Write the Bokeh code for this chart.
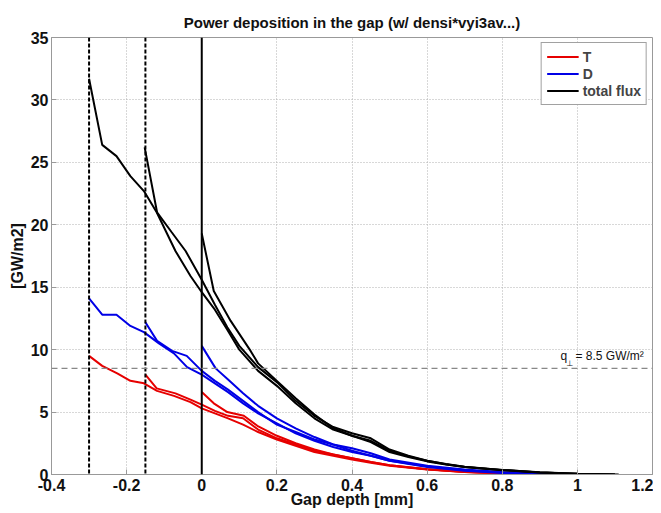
from bokeh.plotting import figure
from bokeh.models import Range1d, FixedTicker, Span, Label, Legend, LegendItem
from bokeh.embed import file_html
from bokeh.resources import INLINE

# ---------------- data ----------------
# total flux (black), three runs starting at -0.3, -0.15 and 0 mm
tot1_x = [-0.3, -0.265, -0.227, -0.19, -0.154, -0.12, -0.07, -0.03, 0.0, 0.035, 0.068, 0.1,
          0.15, 0.2, 0.25, 0.3, 0.35, 0.4, 0.45, 0.5, 0.55, 0.6, 0.65, 0.7, 0.8, 0.9, 1.0, 1.11]
tot1_y = [31.7, 26.4, 25.5, 23.9, 22.7, 21.0, 17.9, 15.9, 14.6, 13.2, 11.6, 10.0,
          8.3, 7.1, 5.7, 4.5, 3.6, 3.1, 2.6, 1.8, 1.4, 1.05, 0.8, 0.6, 0.35, 0.17, 0.07, 0.0]
tot2_x = [-0.152, -0.119, -0.08, -0.043, 0.0, 0.035, 0.068, 0.1, 0.15, 0.2, 0.25, 0.3,
          0.35, 0.4, 0.45, 0.5, 0.55, 0.6, 0.65, 0.7, 0.8, 0.9, 1.0, 1.1]
tot2_y = [26.2, 21.0, 19.4, 17.9, 15.6, 13.6, 11.8, 10.3, 8.6, 7.4, 5.9, 4.7,
          3.8, 3.3, 2.9, 2.0, 1.5, 1.1, 0.85, 0.62, 0.37, 0.18, 0.07, 0.01]
tot3_x = [0.0, 0.032, 0.077, 0.13, 0.15, 0.2, 0.25, 0.3, 0.35, 0.4, 0.45, 0.5,
          0.55, 0.6, 0.65, 0.7, 0.8, 0.9, 1.0, 1.1]
tot3_y = [19.3, 14.7, 12.3, 9.9, 8.9, 7.5, 6.1, 4.8, 3.7, 3.1, 2.7, 1.9,
          1.45, 1.1, 0.82, 0.6, 0.36, 0.17, 0.07, 0.0]

# D (blue)
d1_x = [-0.3, -0.265, -0.227, -0.19, -0.154, -0.114, -0.074, -0.039, 0.0, 0.035, 0.07, 0.11,
        0.15, 0.2, 0.25, 0.3, 0.35, 0.4, 0.45, 0.5, 0.6, 0.7, 0.8, 0.9, 1.0]
d1_y = [14.1, 12.8, 12.8, 11.9, 11.4, 10.5, 9.7, 8.6, 8.0, 7.3, 6.6, 5.7,
        4.9, 4.1, 3.3, 2.7, 2.2, 1.8, 1.5, 1.1, 0.65, 0.35, 0.15, 0.05, 0.01]
d2_x = [-0.15, -0.119, -0.079, -0.04, 0.0, 0.035, 0.07, 0.11, 0.15, 0.2, 0.25, 0.3,
        0.35, 0.4, 0.45, 0.5, 0.6, 0.7, 0.8, 0.9, 1.0]
d2_y = [12.2, 10.7, 9.9, 9.5, 8.3, 7.5, 6.8, 5.9, 5.0, 4.0, 3.4, 2.8,
        2.4, 2.1, 1.7, 1.2, 0.7, 0.4, 0.2, 0.06, 0.01]
d3_x = [0.0, 0.037, 0.07, 0.11, 0.15, 0.2, 0.25, 0.3, 0.35, 0.4, 0.45, 0.5,
        0.6, 0.7, 0.8, 0.9, 1.0]
d3_y = [10.3, 8.5, 7.6, 6.5, 5.5, 4.5, 3.7, 3.0, 2.4, 1.9, 1.5, 1.1,
        0.6, 0.3, 0.12, 0.04, 0.01]

# T (red)
t1_x = [-0.3, -0.265, -0.225, -0.19, -0.154, -0.119, -0.074, -0.03, 0.0, 0.035, 0.07, 0.11,
        0.15, 0.2, 0.25, 0.3, 0.35, 0.4, 0.45, 0.5, 0.6, 0.7, 0.8, 0.9, 1.0]
t1_y = [9.5, 8.7, 8.1, 7.5, 7.3, 6.7, 6.3, 5.8, 5.3, 4.9, 4.5, 4.0,
        3.4, 2.8, 2.3, 1.8, 1.5, 1.2, 0.95, 0.7, 0.4, 0.2, 0.1, 0.03, 0.0]
t2_x = [-0.15, -0.12, -0.07, -0.03, 0.0, 0.035, 0.07, 0.11, 0.15, 0.2, 0.25, 0.3,
        0.35, 0.4, 0.45, 0.5, 0.6, 0.7, 0.8, 0.9, 1.0]
t2_y = [8.0, 6.9, 6.5, 6.0, 5.6, 5.1, 4.7, 4.5, 3.6, 2.9, 2.4, 1.9,
        1.6, 1.3, 1.0, 0.75, 0.42, 0.22, 0.1, 0.03, 0.0]
t3_x = [0.0, 0.032, 0.068, 0.112, 0.148, 0.2, 0.25, 0.3, 0.35, 0.4, 0.45, 0.5,
        0.6, 0.7, 0.8, 0.9, 1.0]
t3_y = [6.6, 5.7, 5.0, 4.7, 3.9, 3.1, 2.5, 2.0, 1.6, 1.3, 1.0, 0.75,
        0.42, 0.2, 0.09, 0.03, 0.0]

start_positions = [-0.3, -0.15]
q_perp = 8.5
x_ticks = [-0.4, -0.2, 0.0, 0.2, 0.4, 0.6, 0.8, 1.0, 1.2]
x_tick_labels = ["-0.4", "-0.2", "0", "0.2", "0.4", "0.6", "0.8", "1", "1.2"]
y_ticks = [0, 5, 10, 15, 20, 25, 30, 35]

FONT = "Liberation Sans"
RED = "#e60000"
BLUE = "#0000e6"
BLACK = "#000000"

p = figure(width=653, height=512, output_backend="svg", toolbar_location=None,
           x_range=Range1d(-0.4, 1.2), y_range=Range1d(0, 35),
           title="Power deposition in the gap (w/ densi*vyi3av...)",
           min_border_left=51, min_border_right=1, min_border_top=37, min_border_bottom=38)

p.title.align = "center"
p.title.text_font = FONT
p.title.text_font_size = "15px"
p.title.text_font_style = "bold"
p.title.text_color = "#111111"
p.title.offset = 0
p.title.standoff = 14

p.outline_line_color = "#999999"
p.outline_line_width = 1

for ax in (p.xaxis[0], p.yaxis[0]):
    ax.axis_line_color = "#999999"
    ax.major_tick_in = 5
    ax.major_tick_out = 0
    ax.minor_tick_in = 0
    ax.minor_tick_out = 0
    ax.major_tick_line_color = "#999999"
    ax.major_label_text_font = FONT
    ax.major_label_text_font_size = "16px"
    ax.major_label_text_font_style = "bold"
    ax.major_label_text_color = "#111111"
    ax.axis_label_text_font = FONT
    ax.axis_label_text_font_size = "16px"
    ax.axis_label_text_font_style = "bold"
    ax.axis_label_text_color = "#111111"

p.xaxis.ticker = FixedTicker(ticks=x_ticks)
p.xaxis.major_label_overrides = {t: l for t, l in zip(x_ticks, x_tick_labels)}
p.yaxis.ticker = FixedTicker(ticks=y_ticks)
p.xaxis.axis_label = "Gap depth [mm]"
p.yaxis.axis_label = "[GW/m2]"
p.xaxis.major_label_standoff = 4
p.xaxis.axis_label_standoff = -3
p.yaxis.major_label_standoff = 3
p.yaxis.axis_label_standoff = 2

for g in (p.xgrid[0], p.ygrid[0]):
    g.grid_line_color = "#b0b0b0"
    g.grid_line_dash = "1 2"
    g.grid_line_width = 1

# vertical markers
for xs in start_positions:
    p.add_layout(Span(location=xs, dimension="height", line_color=BLACK,
                      line_width=2, line_dash="4 2"))
p.add_layout(Span(location=0, dimension="height", line_color=BLACK, line_width=2))
p.add_layout(Span(location=q_perp, dimension="width", line_color="#888888",
                  line_width=1.2, line_dash="6 4"))

lw = 2
rT = [p.line(t1_x, t1_y, line_color=RED, line_width=lw),
      p.line(t2_x, t2_y, line_color=RED, line_width=lw),
      p.line(t3_x, t3_y, line_color=RED, line_width=lw)]
rD = [p.line(d1_x, d1_y, line_color=BLUE, line_width=lw),
      p.line(d2_x, d2_y, line_color=BLUE, line_width=lw),
      p.line(d3_x, d3_y, line_color=BLUE, line_width=lw)]
rK = [p.line(tot1_x, tot1_y, line_color=BLACK, line_width=lw),
      p.line(tot2_x, tot2_y, line_color=BLACK, line_width=lw),
      p.line(tot3_x, tot3_y, line_color=BLACK, line_width=lw)]

legend = Legend(items=[LegendItem(label="T", renderers=[rT[0]]),
                       LegendItem(label="D", renderers=[rD[0]]),
                       LegendItem(label="total flux", renderers=[rK[0]])],
                location="top_right")
legend.label_text_font = FONT
legend.label_text_font_size = "14px"
legend.label_text_font_style = "bold"
legend.glyph_width = 32
legend.glyph_height = 17
legend.label_height = 17
legend.label_standoff = 4
legend.spacing = 0
legend.padding = 5
legend.margin = 5
legend.border_line_color = "#444444"
legend.border_line_width = 1
legend.background_fill_alpha = 1
p.add_layout(legend)

# q_perp annotation
qx = 0.955
p.add_layout(Label(x=qx, y=q_perp, text="q", x_offset=0, y_offset=5,
                   text_font=FONT, text_font_size="12px", text_color="#111111"))
p.add_layout(Label(x=qx, y=q_perp, text="⊥", x_offset=6, y_offset=0,
                   text_font="DejaVu Sans", text_font_size="8px", text_color="#111111"))
p.add_layout(Label(x=qx, y=q_perp, text="= 8.5 GW/m²", x_offset=15, y_offset=5,
                   text_font=FONT, text_font_size="12px", text_color="#111111"))

open("out.html", "w").write(file_html(p, INLINE))
